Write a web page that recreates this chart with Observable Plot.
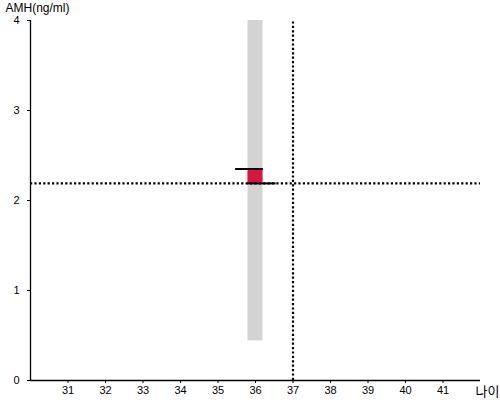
<!DOCTYPE html>
<html>
<head>
<meta charset="utf-8">
<script src="https://cdn.jsdelivr.net/npm/d3@7"></script>
<script src="https://cdn.jsdelivr.net/npm/@observablehq/plot@0.6"></script>
<style>
html, body { margin: 0; padding: 0; background: #fff; }
#chart svg { font-family: "Liberation Sans", Arial, "Noto Sans CJK KR", sans-serif; }
</style>
</head>
<body>
<div id="chart"></div>
<script>
// Data
const xTicks = [31, 32, 33, 34, 35, 36, 37, 38, 39, 40, 41];
const yTicks = [0, 1, 2, 3, 4];
const xDomain = [30, 42];
const yDomain = [0, 4];
const xLabel = "나이";
const yLabel = "AMH(ng/ml)";

// Normal range band for age 36
const bandX1 = [35.8];
const bandX2 = [36.2];
const bandLow = [0.44];
const bandHigh = [4];

// Reference (average) level and measured level
const avgY = [2.35];
const avgX1 = [35.47];
const avgX2 = [36.21];
const myY = [2.19];
const myX1 = [35.79];
const myX2 = [36.55];
const myAge = [37];
const myAmh = [2.19];

const band = bandX1.map((d, i) => ({x1: d, x2: bandX2[i], y1: bandLow[i], y2: bandHigh[i]}));
const diff = bandX1.map((d, i) => ({x1: d, x2: bandX2[i], y1: myY[i], y2: avgY[i]}));
const avgLine = avgY.map((d, i) => ({y: d, x1: avgX1[i], x2: avgX2[i]}));
const myLine = myY.map((d, i) => ({y: d, x1: myX1[i], x2: myX2[i]}));

const chart = Plot.plot({
  width: 500,
  height: 400,
  marginLeft: 30,
  marginRight: 20,
  marginTop: 20,
  marginBottom: 20,
  style: {fontSize: "11px", fontFamily: "'Liberation Sans', Arial, 'Noto Sans CJK KR', sans-serif", color: "black"},
  x: {domain: xDomain},
  y: {domain: yDomain},
  marks: [
    Plot.rectY(band, {x1: "x1", x2: "x2", y1: "y1", y2: "y2", fill: "#d3d3d3"}),
    Plot.rectY(diff, {x1: "x1", x2: "x2", y1: "y1", y2: "y2", fill: "#dc143c"}),
    Plot.ruleY(myAmh, {x1: xDomain[0], x2: xDomain[1], stroke: "black", strokeWidth: 2.2, strokeDasharray: "2.2,2.2"}),
    Plot.ruleX(myAge, {y1: yDomain[0], y2: yDomain[1], stroke: "black", strokeWidth: 2.2, strokeDasharray: "2.2,2.2"}),
    Plot.ruleY(avgLine, {y: "y", x1: "x1", x2: "x2", stroke: "black", strokeWidth: 2}),
    Plot.ruleY(myLine, {y: "y", x1: "x1", x2: "x2", stroke: "black", strokeWidth: 2}),
    Plot.ruleY([yDomain[0]], {x1: xDomain[0], x2: xDomain[1], stroke: "black", strokeWidth: 1.3}),
    Plot.ruleX([xDomain[0]], {y1: yDomain[0], y2: yDomain[1], stroke: "black", strokeWidth: 1.3}),
    Plot.axisX({ticks: xTicks, tickSize: 3, tickPadding: 3, tickFormat: d => String(d), label: null, fontSize: 11}),
    Plot.axisY({ticks: yTicks, tickSize: 3, tickPadding: 8, tickFormat: d => String(d), label: null, fontSize: 11}),
    Plot.text([yLabel], {frameAnchor: "top-left", text: d => d, dx: -25, dy: -12, lineAnchor: "middle", textAnchor: "start", fontSize: 12, fill: "black"}),
    Plot.text([xLabel], {frameAnchor: "bottom-right", text: d => d, dx: -5, dy: 11, lineAnchor: "middle", textAnchor: "start", fontSize: 13, fill: "black"})
  ]
});
document.getElementById("chart").appendChild(chart);
</script>
</body>
</html>
